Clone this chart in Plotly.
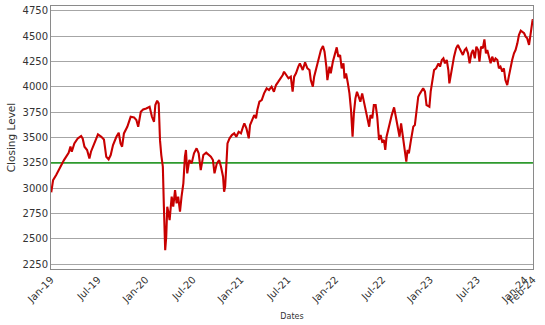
import plotly.graph_objects as go

dates = [
    "2019-01-02","2019-01-09","2019-01-21","2019-02-03","2019-02-10","2019-02-20","2019-03-01","2019-03-10",
    "2019-03-17","2019-03-22","2019-04-01","2019-04-14","2019-04-27","2019-05-03","2019-05-10","2019-05-20",
    "2019-05-29","2019-06-04","2019-06-17","2019-07-01","2019-07-14","2019-07-24","2019-08-02","2019-08-11",
    "2019-08-19","2019-08-28","2019-09-10","2019-09-19","2019-09-26","2019-10-02","2019-10-09","2019-10-22",
    "2019-11-04","2019-11-17","2019-11-26","2019-12-03","2019-12-13","2019-12-22","2020-01-03","2020-01-16",
    "2020-01-25","2020-02-02","2020-02-07","2020-02-14","2020-02-20","2020-02-25","2020-03-01","2020-03-07",
    "2020-03-11","2020-03-13","2020-03-16","2020-03-20","2020-03-24","2020-03-29","2020-04-02","2020-04-10",
    "2020-04-16","2020-04-23","2020-04-29","2020-05-05","2020-05-12","2020-05-18","2020-05-25","2020-05-31",
    "2020-06-04","2020-06-09","2020-06-17","2020-06-26","2020-07-05","2020-07-15","2020-07-23","2020-07-31",
    "2020-08-10","2020-08-21","2020-08-30","2020-09-08","2020-09-16","2020-09-22","2020-10-01","2020-10-10",
    "2020-10-17","2020-10-25","2020-10-29","2020-11-02","2020-11-07","2020-11-11","2020-11-19","2020-11-28",
    "2020-12-07","2020-12-15","2020-12-24","2021-01-02","2021-01-10","2021-01-15","2021-01-23","2021-02-01",
    "2021-02-06","2021-02-13","2021-02-22","2021-03-01","2021-03-06","2021-03-14","2021-03-23","2021-04-01",
    "2021-04-11","2021-04-20","2021-04-30","2021-05-09","2021-05-17","2021-05-26","2021-06-04","2021-06-12",
    "2021-06-17","2021-06-25","2021-07-04","2021-07-13","2021-07-20","2021-07-26","2021-08-02","2021-08-11",
    "2021-08-17","2021-08-28","2021-09-06","2021-09-15","2021-09-23","2021-09-28","2021-10-06","2021-10-11",
    "2021-10-19","2021-10-28","2021-11-06","2021-11-14","2021-11-20","2021-11-27","2021-12-01","2021-12-09",
    "2021-12-14","2021-12-22","2021-12-31","2022-01-06","2022-01-12","2022-01-19","2022-01-25","2022-02-01",
    "2022-02-05","2022-02-11","2022-02-18","2022-02-24","2022-03-02","2022-03-08","2022-03-13","2022-03-19",
    "2022-03-25","2022-04-01","2022-04-07","2022-04-14","2022-04-20","2022-04-28","2022-05-05","2022-05-11",
    "2022-05-16","2022-05-23","2022-05-29","2022-06-05","2022-06-11","2022-06-18","2022-06-24","2022-06-30",
    "2022-07-07","2022-07-12","2022-07-17","2022-07-24","2022-07-30","2022-08-06","2022-08-15","2022-08-23",
    "2022-08-29","2022-09-05","2022-09-11","2022-09-18","2022-09-24","2022-10-01","2022-10-06","2022-10-11",
    "2022-10-19","2022-10-28","2022-11-03","2022-11-10","2022-11-16","2022-11-23","2022-11-29","2022-12-05",
    "2022-12-12","2022-12-18","2022-12-25","2022-12-29","2023-01-03","2023-01-11","2023-01-16","2023-01-24",
    "2023-02-02","2023-02-08","2023-02-15","2023-02-21","2023-02-27","2023-03-06","2023-03-12","2023-03-16",
    "2023-03-21","2023-03-28","2023-04-03","2023-04-11","2023-04-18","2023-04-24","2023-05-01","2023-05-07",
    "2023-05-14","2023-05-20","2023-05-27","2023-06-02","2023-06-09","2023-06-15","2023-06-22","2023-06-28",
    "2023-07-05","2023-07-10","2023-07-16","2023-07-23","2023-07-29","2023-08-04","2023-08-09","2023-08-15",
    "2023-08-22","2023-08-28","2023-09-04","2023-09-10","2023-09-17","2023-09-23","2023-09-29","2023-10-06",
    "2023-10-12","2023-10-18","2023-10-25","2023-10-31","2023-11-07","2023-11-13","2023-11-20","2023-11-26",
    "2023-12-03","2023-12-09","2023-12-16","2023-12-22","2023-12-29","2024-01-04","2024-01-10","2024-01-17",
    "2024-01-21","2024-01-26","2024-01-31","2024-02-01",
]

closing = [
    2960,3080,3130,3185,3228,3277,3317,3350,
    3410,3360,3442,3490,3514,3490,3409,3376,
    3294,3360,3442,3530,3507,3480,3310,3284,
    3327,3425,3507,3547,3442,3409,3540,3606,
    3704,3698,3672,3606,3754,3777,3786,3803,
    3704,3655,3820,3862,3836,3474,3327,3212,
    2817,2555,2390,2522,2817,2752,2686,2917,
    2818,2982,2851,2917,2769,2917,3048,3311,
    3377,3147,3278,3245,3344,3393,3344,3179,
    3327,3350,3327,3311,3278,3147,3245,3278,
    3212,3114,2966,3015,3245,3442,3492,3524,
    3541,3508,3557,3541,3606,3639,3590,3492,
    3623,3672,3721,3689,3771,3853,3869,3935,
    3984,3968,4001,3951,4017,4050,4083,4116,
    4148,4116,4083,4100,3951,4100,4132,4198,
    4231,4165,4240,4181,4165,4066,4001,4100,
    4181,4263,4362,4401,4346,4198,4066,4198,
    4132,4247,4329,4388,4296,4313,4181,4231,
    4083,4132,4034,3935,3771,3508,3738,3886,
    3951,3902,3853,3935,3853,3771,3672,3606,
    3721,3689,3820,3820,3705,3475,3524,3459,
    3475,3377,3508,3590,3672,3721,3797,3689,
    3574,3508,3639,3508,3360,3262,3377,3344,
    3475,3607,3623,3771,3902,3935,3968,3985,
    3952,3820,3810,3804,3952,4100,4165,4182,
    4231,4198,4264,4280,4231,4264,4165,4034,
    4116,4231,4297,4379,4412,4379,4346,4313,
    4362,4379,4330,4231,4330,4362,4280,4395,
    4362,4247,4395,4379,4467,4330,4362,4297,
    4231,4297,4247,4280,4264,4182,4198,4149,
    4182,4067,4017,4100,4198,4264,4330,4362,
    4428,4510,4553,4543,4527,4494,4477,4412,
    4494,4592,4665,4655,
]

threshold = 3250

x_tick_vals = ["2019-01-01","2019-07-01","2020-01-01","2020-07-01","2021-01-01","2021-07-01",
               "2022-01-01","2022-07-01","2023-01-01","2023-07-01","2024-01-01","2024-02-01"]
x_tick_text = ["Jan-19","Jul-19","Jan-20","Jul-20","Jan-21","Jul-21",
               "Jan-22","Jul-22","Jan-23","Jul-23","Jan-24","Feb-24"]
y_tick_vals = [2250,2500,2750,3000,3250,3500,3750,4000,4250,4500,4750]

FONT = "DejaVu Sans"

fig = go.Figure()
fig.add_trace(go.Scatter(
    x=[x_tick_vals[0], x_tick_vals[-1]], y=[threshold, threshold],
    mode="lines", line=dict(color="#2e9a2e", width=1.6), hoverinfo="skip", showlegend=False,
))
fig.add_trace(go.Scatter(
    x=dates, y=closing, mode="lines",
    line=dict(color="#c80000", width=2.1), showlegend=False,
))

fig.update_layout(
    width=545, height=325,
    margin=dict(l=51, r=12, t=6, b=56, autoexpand=False),
    paper_bgcolor="white", plot_bgcolor="white",
    font=dict(family=FONT, size=10, color="#333333"),
    xaxis=dict(
        range=["2019-01-01", "2024-02-01 06:00"],
        tickvals=x_tick_vals, ticktext=x_tick_text, tickangle=-45,
        showgrid=False, zeroline=False,
        showline=True, linecolor="#8a8a8a", linewidth=1, mirror=True,
        ticks="", tickfont=dict(family=FONT, size=10, color="#333333"),
        title=dict(text="Dates", font=dict(family=FONT, size=8, color="#333333"), standoff=8),
        automargin=False,
    ),
    yaxis=dict(
        range=[2204, 4796],
        tickvals=y_tick_vals,
        showgrid=True, gridcolor="#a6a6a6", gridwidth=1, zeroline=False,
        showline=True, linecolor="#8a8a8a", linewidth=1, mirror=True,
        ticks="", tickfont=dict(family=FONT, size=10, color="#333333"),
        title=dict(text="Closing Level", font=dict(family=FONT, size=10.5, color="#333333"), standoff=4),
        automargin=False,
    ),
)

fig.write_html("out.html")
